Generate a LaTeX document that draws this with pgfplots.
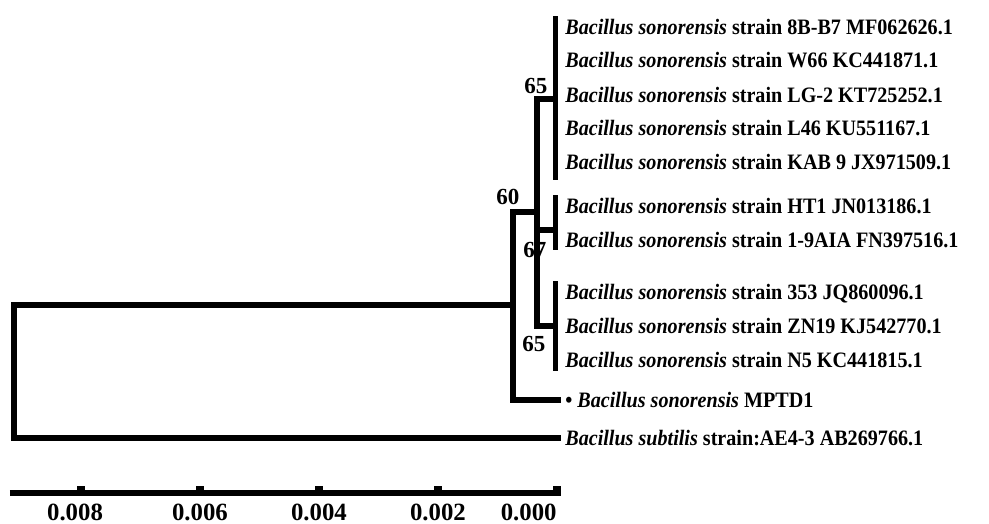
\documentclass[border=0pt]{standalone}
\usepackage{pgfplots}
\pgfplotsset{compat=1.18}
\usepackage{fontspec}
\setmainfont{Liberation Serif}
\tikzset{
  leaf/.style={anchor=west, inner sep=0pt, font=\fontsize{11}{13}\selectfont\bfseries},
  boot/.style={inner sep=0pt, font=\fontsize{11.5}{13}\selectfont\bfseries},
  sc/.style={inner sep=0pt, font=\fontsize{12.4}{14}\selectfont\bfseries},
  br/.style={black, line width=2.6pt, mark=none, line join=miter, line cap=rect},
  tk/.style={black, line width=3.8pt, mark=none, line cap=butt},
}
\newcommand{\lf}[1]{\scalebox{0.915}[1]{#1}}
\begin{document}
\begin{tikzpicture}
\begin{axis}[
  scale only axis, width=494.5pt, height=262pt,
  xmin=-0.007261, xmax=0.009361, x dir=reverse,
  ymin=0, ymax=524, y dir=reverse,
  axis lines=none, clip=false,
]
\path (rel axis cs:0,0) (rel axis cs:1,1);
% tree
\addplot[br] coordinates {(0.000739,305) (0.009126,305) (0.009126,438) (-0.00002,438)};
\addplot[br] coordinates {(0.000336,212) (0.000739,212) (0.000739,400) (-0.00002,400)};
\addplot[br] coordinates {(0.00002,99) (0.000336,99) (0.000336,326) (0.00002,326)};
\addplot[br] coordinates {(0.000336,230) (0.00002,230)};
\addplot[br] coordinates {(0.00002,19) (0.00002,177)};
\addplot[br] coordinates {(0.00002,198) (0.00002,247)};
\addplot[br] coordinates {(0.00002,284) (0.00002,368)};
% scale bar
\addplot[black, line width=3pt, mark=none, line cap=butt] coordinates {(0.009193,493) (-0.00007,493)};
\addplot[tk] coordinates {(0.008,493) (0.008,486)};
\addplot[tk] coordinates {(0.006,493) (0.006,486)};
\addplot[tk] coordinates {(0.004,493) (0.004,486)};
\addplot[tk] coordinates {(0.002,493) (0.002,486)};
\addplot[tk] coordinates {(0.0,493) (0.0,486)};
\node[sc] at (axis cs:0.0081,512) {0.008};
\node[sc] at (axis cs:0.006,512) {0.006};
\node[sc] at (axis cs:0.004,512) {0.004};
\node[sc] at (axis cs:0.002,512) {0.002};
\node[sc, anchor=east] at (axis cs:0.0,512) {0.000};
% bootstrap values
\node[boot] at (axis cs:0.000353,86) {65};
\node[boot] at (axis cs:0.000823,197) {60};
\node[boot] at (axis cs:0.000370,250) {67};
\node[boot] at (axis cs:0.000387,344) {65};
% leaf labels
\node[leaf] at (axis cs:-0.000134,27) {\lf{\textit{Bacillus sonorensis} strain 8B-B7 MF062626.1}};
\node[leaf] at (axis cs:-0.000134,60) {\lf{\textit{Bacillus sonorensis} strain W66 KC441871.1}};
\node[leaf] at (axis cs:-0.000134,95) {\lf{\textit{Bacillus sonorensis} strain LG-2 KT725252.1}};
\node[leaf] at (axis cs:-0.000134,128) {\lf{\textit{Bacillus sonorensis} strain L46 KU551167.1}};
\node[leaf] at (axis cs:-0.000134,162) {\lf{\textit{Bacillus sonorensis} strain KAB 9 JX971509.1}};
\node[leaf] at (axis cs:-0.000134,206) {\lf{\textit{Bacillus sonorensis} strain HT1 JN013186.1}};
\node[leaf] at (axis cs:-0.000134,240) {\lf{\textit{Bacillus sonorensis} strain 1-9AIA FN397516.1}};
\node[leaf] at (axis cs:-0.000134,294) {\lf{\textit{Bacillus sonorensis} strain 353 JQ860096.1}};
\node[leaf] at (axis cs:-0.000134,326) {\lf{\textit{Bacillus sonorensis} strain ZN19 KJ542770.1}};
\node[leaf] at (axis cs:-0.000134,360) {\lf{\textit{Bacillus sonorensis} strain N5 KC441815.1}};
\node[leaf] at (axis cs:-0.000134,400) {\lf{\textbullet\ \textit{Bacillus sonorensis} MPTD1}};
\node[leaf] at (axis cs:-0.000134,438) {\lf{\textit{Bacillus subtilis} strain:AE4-3 AB269766.1}};
\end{axis}
\end{tikzpicture}
\end{document}
